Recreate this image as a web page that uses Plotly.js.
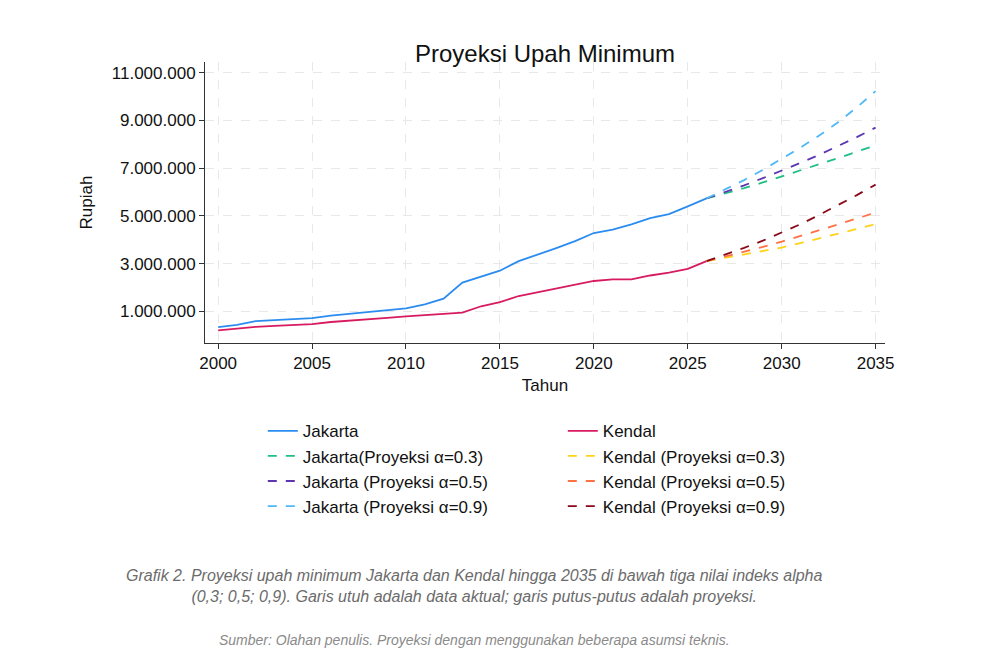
<!DOCTYPE html>
<html>
<head>
<meta charset="utf-8">
<script src="https://cdn.plot.ly/plotly-3.0.1.min.js"></script>
<style>body{margin:0;background:#fff}#chart{width:996px;height:667px}</style>
</head>
<body>
<div id="chart"></div>
<script>
// aktual
yearsAct = [];
for (var y = 2000; y <= 2026; y++) yearsAct.push(y);
jakarta = [0.34,0.43,0.59,0.63,0.67,0.71,0.82,0.90,0.97,1.07,1.12,1.29,1.53,2.20,2.44,2.70,3.10,3.36,3.65,3.94,4.28,4.42,4.64,4.90,5.07,5.40,5.73];
kendal = [0.20,0.28,0.35,0.39,0.42,0.46,0.55,0.60,0.65,0.72,0.79,0.84,0.89,0.94,1.21,1.38,1.64,1.80,1.95,2.11,2.27,2.34,2.34,2.50,2.62,2.78,3.10];

// proyeksi
yearsProj = [2026,2027,2028,2029,2030,2031,2032,2033,2034,2035];
jak03 = [5.73,5.94,6.16,6.40,6.65,6.90,7.15,7.42,7.69,7.96];
jak05 = [5.73,6.00,6.28,6.58,6.89,7.22,7.56,7.92,8.30,8.70];
jak09 = [5.73,6.10,6.50,6.93,7.38,7.86,8.37,8.92,9.55,10.23];
ken03 = [3.10,3.24,3.38,3.52,3.67,3.86,4.05,4.25,4.45,4.66];
ken05 = [3.10,3.29,3.49,3.70,3.92,4.15,4.39,4.64,4.89,5.14];
ken09 = [3.10,3.37,3.66,3.96,4.29,4.65,5.04,5.45,5.87,6.31];

function juta(a){
    var r = [];
    for (var i = 0; i < a.length; i++) r.push(a[i]*1000000);
    return r;
}

function line(x, y, name, color, dash){
    return {x: x, y: juta(y), name: name, type: 'scatter', mode: 'lines',
        line: {color: color, width: 1.8, dash: dash}};
}

var data = [
    line(yearsAct, jakarta, 'Jakarta', '#2b8cf0', 'solid'),
    line(yearsAct, kendal, 'Kendal', '#d81b60', 'solid'),
    line(yearsProj, jak03, 'Jakarta(Proyeksi α=0.3)', '#1fbf83', 'dash'),
    line(yearsProj, ken03, 'Kendal (Proyeksi α=0.3)', '#ffd21a', 'dash'),
    line(yearsProj, jak05, 'Jakarta (Proyeksi α=0.5)', '#5e35b1', 'dash'),
    line(yearsProj, ken05, 'Kendal (Proyeksi α=0.5)', '#ff7043', 'dash'),
    line(yearsProj, jak09, 'Jakarta (Proyeksi α=0.9)', '#4fb8f7', 'dash'),
    line(yearsProj, ken09, 'Kendal (Proyeksi α=0.9)', '#8b0a1a', 'dash')
];

var axisStyle = {
    showgrid: true, gridcolor: '#e8e8e8', griddash: 'dash', gridwidth: 1.2,
    zeroline: false, showline: true, linecolor: '#333', linewidth: 1,
    ticks: 'outside', ticklen: 5, tickcolor: '#333',
    tickfont: {size: 17, color: '#111'}
};

var layout = {
    width: 996, height: 667,
    separators: ',.',
    font: {family: 'Arial, Liberation Sans, sans-serif', color: '#111'},
    margin: {l: 205, r: 111, t: 62, b: 324},
    title: {text: 'Proyeksi Upah Minimum', xref: 'paper', x: 0.5, xanchor: 'center', y: 0.932, font: {size: 24}},
    xaxis: Object.assign({}, axisStyle, {
        range: [1999.3, 2035.5], tickvals: [2000,2005,2010,2015,2020,2025,2030,2035],
        title: {text: 'Tahun', font: {size: 17}, standoff: 6}
    }),
    yaxis: Object.assign({}, axisStyle, {
        range: [-330000, 11450000], tickvals: [1e6,3e6,5e6,7e6,9e6,11e6],
        tickformat: ',d',
        title: {text: 'Rupiah', font: {size: 17}, standoff: 14}
    }),
    showlegend: true,
    legend: {orientation: 'h', x: 0.085, xanchor: 'left', y: -0.25, yanchor: 'top',
        entrywidth: 255, entrywidthmode: 'pixels', font: {size: 17}, tracegroupgap: 0},
    plot_bgcolor: '#fff', paper_bgcolor: '#fff',
    annotations: [
        {text: 'Grafik 2. Proyeksi upah minimum Jakarta dan Kendal hingga 2035 di bawah tiga nilai indeks alpha<br>(0,3; 0,5; 0,9). Garis utuh adalah data aktual; garis putus-putus adalah proyeksi.',
         xref: 'paper', yref: 'paper', x: 0.397, y: -0.865, xanchor: 'center', yanchor: 'middle',
         showarrow: false, font: {size: 16, color: '#6b6b6b', style: 'italic'}, align: 'center'},
        {text: 'Sumber: Olahan penulis. Proyeksi dengan menggunakan beberapa asumsi teknis.',
         xref: 'paper', yref: 'paper', x: 0.397, y: -1.057, xanchor: 'center', yanchor: 'middle',
         showarrow: false, font: {size: 14, color: '#8a8a8a', style: 'italic'}}
    ]
};

Plotly.newPlot('chart', data, layout, {displayModeBar: false});
</script>
</body>
</html>
